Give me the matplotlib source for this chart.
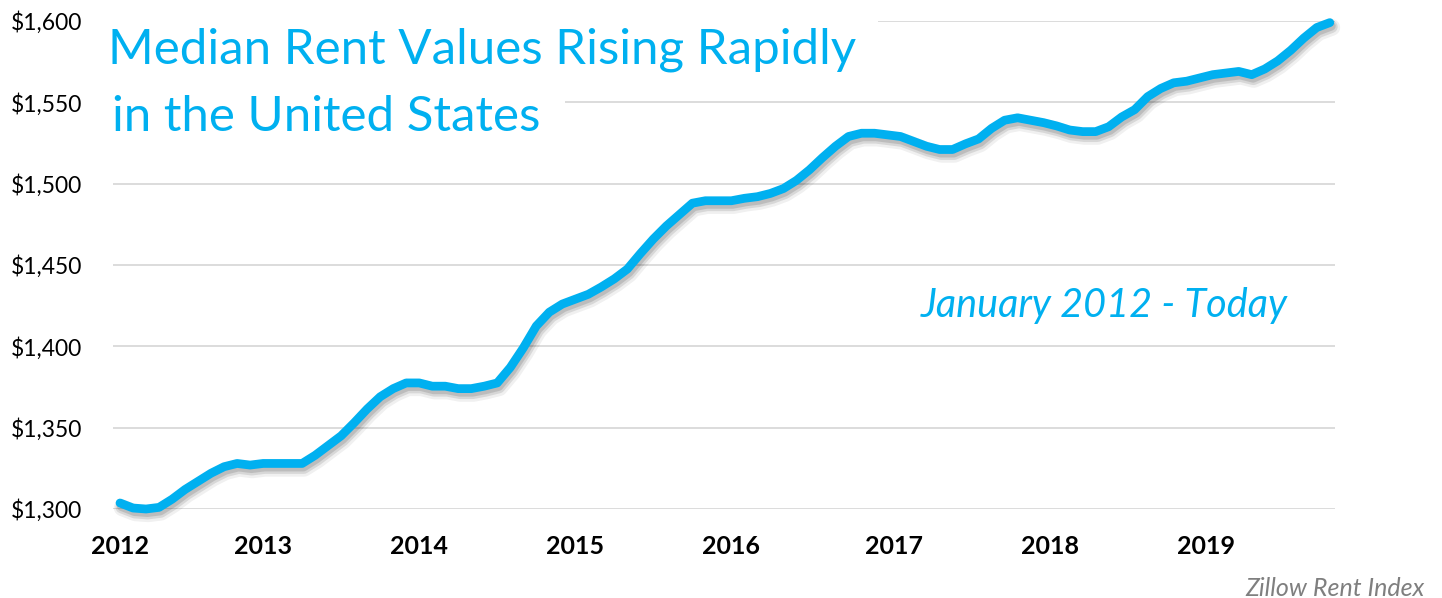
import matplotlib
matplotlib.use("Agg")
import matplotlib.pyplot as plt
import matplotlib.patheffects as pe
from matplotlib.patches import Rectangle
from matplotlib.ticker import FuncFormatter

# ---- data ----
rent_values = [
    1303.7, 1300.6, 1300.0, 1301.0, 1306.0, 1312.0, 1317.0, 1322.0, 1326.0, 1328.0,
    1327.0, 1328.0, 1328.0, 1328.0, 1328.0, 1333.0, 1339.0, 1345.0, 1353.0, 1361.5,
    1369.0, 1374.0, 1377.5, 1377.5, 1375.5, 1375.5, 1374.0, 1374.0, 1375.5, 1377.5,
    1387.0, 1399.0, 1412.5, 1421.0, 1426.0, 1429.0, 1432.0, 1436.5, 1441.5, 1447.5,
    1457.0, 1466.0, 1474.0, 1481.0, 1488.0, 1489.5, 1489.5, 1489.5, 1491.0, 1492.0,
    1494.0, 1497.0, 1502.0, 1508.5, 1516.0, 1523.0, 1529.0, 1531.0, 1531.0, 1530.0,
    1529.0, 1526.0, 1523.0, 1521.0, 1521.0, 1524.5, 1527.5, 1534.0, 1539.0, 1540.5,
    1539.0, 1537.5, 1535.5, 1533.0, 1532.0, 1532.0, 1535.0, 1541.0, 1545.5, 1553.5,
    1558.5, 1562.0, 1563.0, 1565.0, 1567.0, 1568.0, 1569.0, 1567.0, 1570.5, 1575.5,
    1582.0, 1589.5, 1596.0, 1599.0,
]
month_index = list(range(len(rent_values)))
year_labels = ["2012", "2013", "2014", "2015", "2016", "2017", "2018", "2019"]
year_label_pos = [0, 11, 23, 35, 47, 59.5, 71.5, 83.5]
y_ticks = [1300, 1350, 1400, 1450, 1500, 1550, 1600]

title_line1 = "Median Rent Values Rising Rapidly"
title_line2 = "in the United States"
subtitle = "January 2012 - Today"
source = "Zillow Rent Index"

BLUE = "#00B0F0"
FONT = "Lato"

W, H = 1442, 598
fig = plt.figure(figsize=(W / 100, H / 100), dpi=100)
ax = fig.add_axes([113 / W, 1 - 509 / H, (1335 - 113) / W, (509 - 21) / H])

ax.set_xlim(-0.54, 93.4)
ax.set_ylim(1300, 1600)
ax.set_yticks(y_ticks)
ax.yaxis.set_major_formatter(FuncFormatter(lambda v, p: f"${v:,.0f}"))
ax.set_xticks(year_label_pos)
ax.set_xticklabels(year_labels)

for s in ax.spines.values():
    s.set_visible(False)
ax.tick_params(axis="both", length=0)
ax.tick_params(axis="y", pad=22, labelsize=16.5)
ax.tick_params(axis="x", pad=18.5, labelsize=18)
for lab in ax.get_yticklabels():
    lab.set_fontfamily(FONT)
    lab.set_color("black")
for lab in ax.get_xticklabels():
    lab.set_fontfamily(FONT)
    lab.set_fontweight("bold")
    lab.set_color("black")

ax.grid(axis="y", color="#D9D9D9", linewidth=1.3)
ax.set_axisbelow(True)

# white boxes behind the title lines (they hide the gridlines)
ax.add_patch(Rectangle((-0.01, 0.93), (878 - 113) / 1222 + 0.01, 0.1,
                       transform=ax.transAxes, facecolor="white",
                       edgecolor="none", zorder=1.5, clip_on=False))
ax.add_patch(Rectangle((-0.01, 0.80), (565 - 113) / 1222 + 0.01, 0.07,
                       transform=ax.transAxes, facecolor="white",
                       edgecolor="none", zorder=1.5, clip_on=False))

ax.plot(month_index, rent_values, color=BLUE, linewidth=6.3,
        solid_capstyle="round", solid_joinstyle="round", clip_on=False,
        zorder=3,
        path_effects=[
            pe.SimpleLineShadow(offset=(1.5, -3.5), shadow_color="#000000",
                                alpha=0.06, linewidth=12),
            pe.SimpleLineShadow(offset=(1.2, -3), shadow_color="#000000",
                                alpha=0.10, linewidth=9),
            pe.SimpleLineShadow(offset=(1, -2.5), shadow_color="#000000",
                                alpha=0.12, linewidth=6.5),
            pe.Normal(),
        ])

def px(x, y):
    return x / W, 1 - y / H

fig.text(*px(108, 64), title_line1, color=BLUE, fontsize=35.5,
         fontfamily=FONT, ha="left", va="baseline")
fig.text(*px(112, 131), title_line2, color=BLUE, fontsize=35.5,
         fontfamily=FONT, ha="left", va="baseline")
fig.text(*px(1104, 305), subtitle, color=BLUE, fontsize=28.5,
         fontfamily=FONT, fontstyle="italic", ha="center", va="center")
fig.text(*px(1425, 588), source, color="#7F7F7F", fontsize=18,
         fontfamily=FONT, fontstyle="italic", ha="right", va="center")

fig.savefig("out.png", dpi=100, facecolor="white")
